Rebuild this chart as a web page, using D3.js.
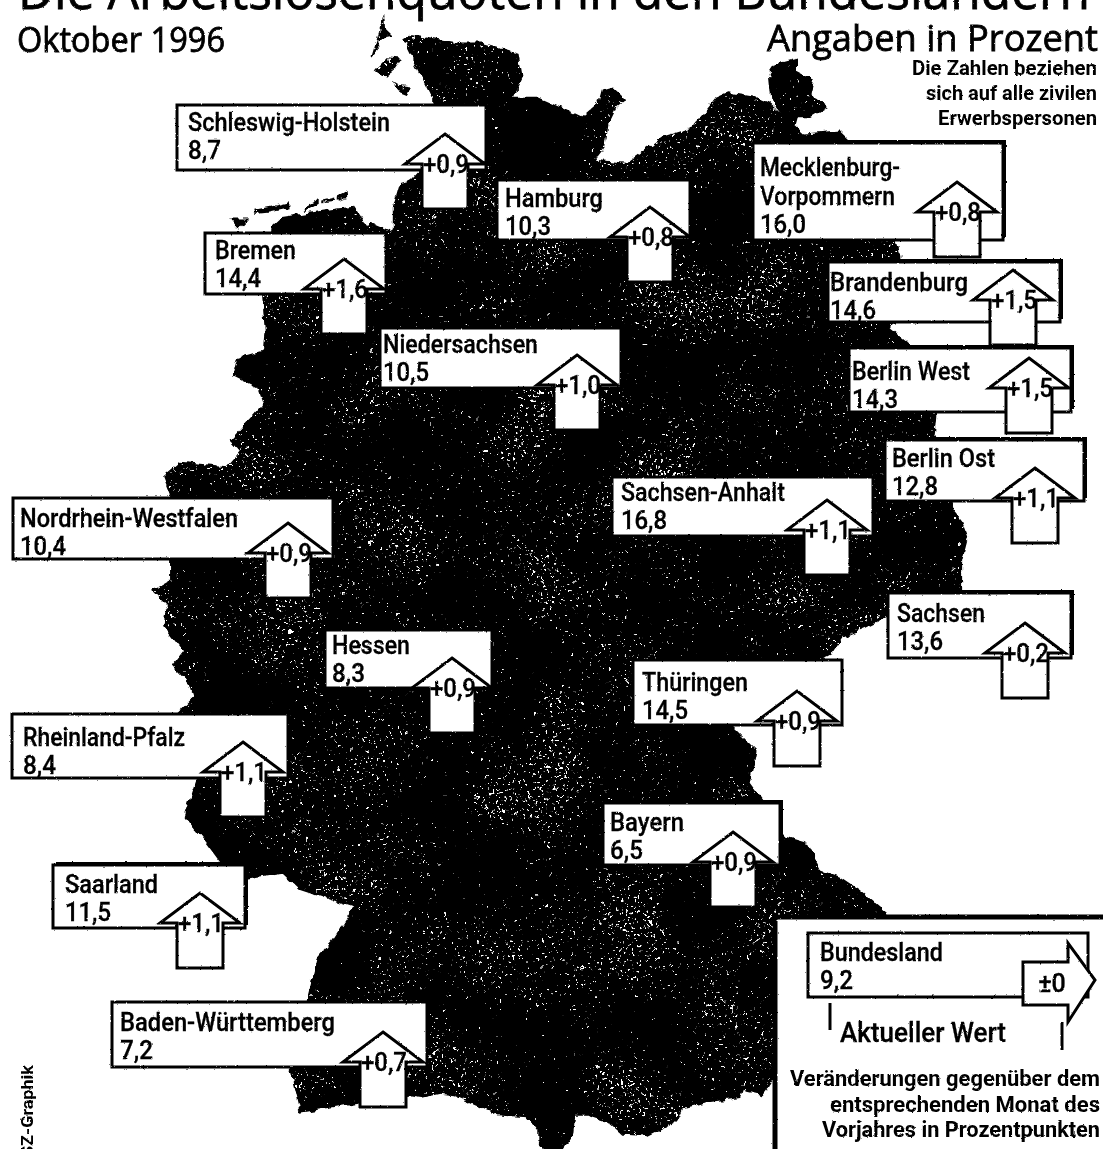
<!DOCTYPE html>
<html>
<head>
<meta charset="utf-8">
<script src="https://cdn.jsdelivr.net/npm/d3@7"></script>
<style>
  html, body { margin: 0; padding: 0; background: #fff; }
  svg { display: block; }
  text { fill: #000; }
  .head { font-family: "Open Sans", sans-serif; font-weight: 500; stroke: #000; stroke-width: 0.8px; }
  .narrow { font-family: Roboto, "Liberation Sans", sans-serif; font-weight: 500; stroke: #000; stroke-width: 0.3px; }
  .heavy { font-family: Roboto, "Liberation Sans", sans-serif; font-weight: 700; }
</style>
</head>
<body>
<div id="chart"></div>
<script>
// --- Data ---
const states = ['Schleswig-Holstein', 'Hamburg', 'Mecklenburg-Vorpommern', 'Bremen', 'Brandenburg', 'Niedersachsen',
  'Berlin West', 'Berlin Ost', 'Sachsen-Anhalt', 'Nordrhein-Westfalen', 'Sachsen', 'Hessen', 'Thüringen',
  'Rheinland-Pfalz', 'Bayern', 'Saarland', 'Baden-Württemberg'];
const rates = [8.7, 10.3, 16.0, 14.4, 14.6, 10.5, 14.3, 12.8, 16.8, 10.4, 13.6, 8.3, 14.5, 8.4, 6.5, 11.5, 7.2];
const changes = [0.9, 0.8, 0.8, 1.6, 1.5, 1.0, 1.5, 1.1, 1.1, 0.9, 0.2, 0.9, 0.9, 1.1, 0.9, 1.1, 0.7];

const legendName = 'Bundesland';
const legendRate = 9.2;
const noteLines = ['Die Zahlen beziehen', 'sich auf alle zivilen', 'Erwerbspersonen'];
const legendLines = ['Veränderungen gegenüber dem', 'entsprechenden Monat des', 'Vorjahres in Prozentpunkten'];

// coast and border, lon/lat
const mainland = [[8.91,54.83],[9.01,54.87],[9.55,54.81],[9.84,54.81],[10.26,54.74],[10.31,54.57],[10.21,54.44],[10.47,54.44],
  [10.74,54.37],[10.99,54.30],[11.19,54.40],[11.23,54.49],[11.35,54.51],[11.51,54.42],[11.40,54.37],[11.31,54.26],[11.27,54.10],[11.15,54.01],
  [11.52,53.99],[11.95,54.17],[12.28,54.23],[12.57,54.44],[12.69,54.47],[13.01,54.44],[13.17,54.40],[13.58,54.19],[13.99,54.21],[14.15,54.12],[14.70,53.74],[14.65,53.45],[14.70,53.35],[14.76,53.12],[14.59,52.86],
  [14.87,52.73],[15.05,52.51],[15.12,52.26],[15.10,52.12],[15.22,51.89],[15.31,51.63],[15.42,51.55],[15.49,51.44],[15.42,51.28],[15.42,51.06],
  [14.81,50.94],[14.55,50.89],[14.31,50.82],[14.03,50.75],[13.92,50.65],[13.77,50.60],[13.42,50.39],[12.76,50.14],[13.03,49.98],[12.95,49.76],
  [13.10,49.64],[13.19,49.51],[13.38,49.39],[13.62,49.35],[13.77,49.17],[14.00,49.12],[14.23,49.03],[14.55,48.87],[14.55,48.76],[13.10,47.63],
  [12.87,47.66],[12.84,47.61],[12.45,47.58],[12.17,47.54],[12.10,47.45],[11.76,47.35],[11.48,47.36],[11.33,47.44],[11.06,47.49],[10.92,47.49],
  [10.90,47.37],[10.74,47.22],[10.63,47.22],[10.48,47.32],[10.48,47.39],[10.36,47.48],[10.05,47.49],[9.50,47.63],[9.35,47.64],[9.12,47.61],
  [9.00,47.62],[8.42,47.58],[7.72,47.51],[7.60,47.80],[7.72,48.01],[7.80,48.28],[7.92,48.57],[8.10,48.69],[8.34,48.91],[7.72,49.03],
  [7.52,49.14],[7.10,49.10],[6.91,49.17],[6.79,49.22],[6.64,49.34],[6.38,49.53],[6.52,49.78],[6.44,50.02],[6.29,50.24],[6.48,50.35],
  [6.44,50.43],[6.23,50.56],[6.36,50.66],[6.13,50.83],[6.17,50.97],[6.00,51.07],[6.21,51.14],[6.21,51.73],[6.13,51.85],[6.33,51.95],
  [6.87,51.92],[7.02,52.02],[6.91,52.09],[7.29,52.34],[7.22,52.46],[6.94,52.54],[6.99,52.66],[7.29,52.71],[7.31,52.85],[7.28,53.09],
  [7.38,53.55],[7.51,53.62],[8.17,53.68],[8.35,53.69],[8.51,53.55],[8.55,53.58],[8.80,53.52],[8.80,53.69],[8.88,53.85],[9.01,53.87],
  [9.12,53.94],[9.29,54.38],[9.22,54.47]];
const islands = [
  [[13.17,54.60],[13.25,54.67],[13.50,54.71],[13.50,54.61],[13.70,54.55],[13.66,54.46],[13.86,54.37],[13.66,54.30],[13.50,54.30],[13.45,54.19],[13.20,54.42]],
  [[8.70,55.01],[8.55,54.71],[8.65,54.76],[8.63,54.83],[8.80,54.85],[8.71,54.90]],
  [[8.59,54.62],[8.74,54.71],[8.91,54.70],[8.84,54.64],[8.70,54.57]],
  [[8.80,54.55],[8.88,54.52],[9.01,54.51],[8.97,54.45],[8.88,54.47]],
  [[7.19,53.67],[7.37,53.69],[7.59,53.72],[7.60,53.68],[7.37,53.65],[7.20,53.64]],
  [[7.76,53.69],[7.95,53.75],[7.95,53.72],[7.77,53.66]],
  [[7.98,53.74],[8.13,53.76],[8.13,53.73],[7.98,53.72]],
  [[8.16,53.76],[8.26,53.79],[8.27,53.75],[8.16,53.73]],
  [[6.91,53.61],[7.12,53.61],[7.01,53.54]]
];

// --- Layout of the labels, same order as states ---
const boxes = [[177,105,486,170],[497,180,690,240],[753,143,1003,240],[205,233,386,294],[828,262,1060,322],[380,328,621,388],
  [849,348,1071,412],[885,440,1084,501],[612,477,873,536],[13,498,333,559],[888,593,1071,658],[325,630,492,688],[633,660,842,725],
  [12,714,288,778],[603,803,780,865],[53,865,245,928],[112,1002,427,1067]];
const arrowTips = [[445,134],[650,207],[957,182],[344,259],[1013,270],[577,355],[1029,358],[1035,468],[827,500],[288,523],
  [1025,623],[452,658],[797,691],[243,742],[733,832],[200,893],[383,1032]];
const textLeft = [188,505,760,215,830,383,852,892,621,20,897,332,642,23,610,65,120];
const valueBase = [159,235,233,287,319,381,408,495,529,555,650,682,719,774,859,921,1059];
const nameWidths = [[202],[98],[140,135],[81],[138],[155],[118],[103],[164],[218],[88],[78],[106],[162],[74],[93],[215]];
const nameLines = [['Schleswig-Holstein'],['Hamburg'],['Mecklenburg-','Vorpommern'],['Bremen'],['Brandenburg'],['Niedersachsen'],
  ['Berlin West'],['Berlin Ost'],['Sachsen-Anhalt'],['Nordrhein-Westfalen'],['Sachsen'],['Hessen'],['Thüringen'],
  ['Rheinland-Pfalz'],['Bayern'],['Saarland'],['Baden-Württemberg']];
const thickBoxes = ['Mecklenburg-Vorpommern', 'Brandenburg', 'Berlin West', 'Berlin Ost', 'Sachsen', 'Saarland', 'Bayern'];

const width = 1103, height = 1149;
const fmtLocale = d3.formatLocale({ decimal: ',', thousands: '.', grouping: [3], currency: ['', ''] });
const fmtRate = fmtLocale.format('.1f');
const fmtChange = fmtLocale.format('+.1f');

const x = d3.scaleLinear().domain([4, 17]).range([-20, 1098]);
const y = d3.scaleLinear().domain([55.1, 47]).range([0, 1187.5]);
const outline = d3.line().x(d => x(d[0])).y(d => y(d[1])).curve(d3.curveLinearClosed);

const svg = d3.select('#chart').append('svg').attr('width', width).attr('height', height);
const defs = svg.append('defs');

// white speckle inside the map, denser in patches
const speckle = defs.append('filter').attr('id', 'speckle')
  .attr('filterUnits', 'userSpaceOnUse').attr('x', 0).attr('y', 0).attr('width', width).attr('height', height)
  .attr('color-interpolation-filters', 'sRGB');
speckle.append('feTurbulence').attr('type', 'fractalNoise').attr('baseFrequency', 0.38).attr('numOctaves', 2).attr('seed', 7).attr('result', 'fineRaw');
speckle.append('feColorMatrix').attr('in', 'fineRaw').attr('values', '1 0 0 0 0 0 1 0 0 0 0 0 1 0 0 0 0 0 0 1').attr('result', 'fine');
speckle.append('feTurbulence').attr('type', 'fractalNoise').attr('baseFrequency', 0.012).attr('numOctaves', 2).attr('seed', 11).attr('result', 'coarseRaw');
speckle.append('feColorMatrix').attr('in', 'coarseRaw').attr('values', '1 0 0 0 0 0 1 0 0 0 0 0 1 0 0 0 0 0 0 1').attr('result', 'coarse');
speckle.append('feComposite').attr('in', 'fine').attr('in2', 'coarse').attr('operator', 'arithmetic')
  .attr('k1', 0).attr('k2', 1).attr('k3', 0.35).attr('k4', 0).attr('result', 'mix');
speckle.append('feColorMatrix').attr('in', 'mix').attr('values', '0 0 0 0 1 0 0 0 0 1 0 0 0 0 1 16 0 0 0 -14.1').attr('result', 'dots');
speckle.append('feComposite').attr('in', 'dots').attr('in2', 'SourceAlpha').attr('operator', 'in');

// rough printed edge
function roughFilter(id, freq, scale) {
  const f = defs.append('filter').attr('id', id)
    .attr('filterUnits', 'userSpaceOnUse').attr('x', 0).attr('y', -20).attr('width', width).attr('height', height + 40);
  f.append('feTurbulence').attr('type', 'fractalNoise').attr('baseFrequency', freq).attr('numOctaves', 2).attr('seed', 4).attr('result', 'n');
  f.append('feDisplacementMap').attr('in', 'SourceGraphic').attr('in2', 'n').attr('scale', scale)
    .attr('xChannelSelector', 'R').attr('yChannelSelector', 'G');
}
roughFilter('roughMap', 0.12, 7);
roughFilter('roughInk', 0.35, 2);

// --- Map ---
const gMap = svg.append('g').attr('filter', 'url(#roughMap)');
const allShapes = [mainland, ...islands];
gMap.selectAll('path.land').data(allShapes).enter().append('path')
  .attr('class', 'land').attr('d', outline).attr('fill', '#000');
gMap.selectAll('path.grain').data(allShapes).enter().append('path')
  .attr('class', 'grain').attr('d', outline).attr('fill', '#fff').attr('filter', 'url(#speckle)');

const ink = svg.append('g').attr('filter', 'url(#roughInk)');

// --- Heading ---
ink.append('text').attr('class', 'head').attr('x', 18).attr('y', 9).attr('font-size', 52)
  .attr('textLength', 1072).attr('lengthAdjust', 'spacingAndGlyphs')
  .text('Die Arbeitslosenquoten in den Bundesländern');
ink.append('text').attr('class', 'head').attr('x', 17).attr('y', 52).attr('font-size', 35)
  .attr('textLength', 208).attr('lengthAdjust', 'spacingAndGlyphs').text('Oktober 1996');
ink.append('text').attr('class', 'head').attr('x', 767).attr('y', 51).attr('font-size', 36)
  .attr('textLength', 331).attr('lengthAdjust', 'spacingAndGlyphs').text('Angaben in Prozent');
ink.selectAll('text.note').data(noteLines).enter().append('text').attr('class', 'note heavy')
  .attr('x', 1097).attr('y', (d, i) => 75 + i * 25).attr('text-anchor', 'end')
  .attr('font-size', 21).attr('textLength', (d, i) => [185, 171, 159][i]).attr('lengthAdjust', 'spacingAndGlyphs').text(d => d);

ink.append('text').attr('class', 'heavy').attr('font-size', 17)
  .attr('transform', 'translate(33,1157) rotate(-90)')
  .attr('textLength', 92).attr('lengthAdjust', 'spacingAndGlyphs').text('SZ-Graphik');

// --- Legend panel ---
ink.append('rect').attr('x', 775).attr('y', 917).attr('width', 340).attr('height', 250)
  .attr('fill', '#fff').attr('stroke', '#000').attr('stroke-width', 5);

// --- Boxes ---
function upArrow(tx, ty) {
  const headH = 30, headW = 40, shaftW = 23, total = 75;
  return [[tx, ty], [tx + headW, ty + headH], [tx + shaftW, ty + headH], [tx + shaftW, ty + total],
    [tx - shaftW, ty + total], [tx - shaftW, ty + headH], [tx - headW, ty + headH]];
}
const shape = d3.line().curve(d3.curveLinearClosed);

states.forEach((s, i) => {
  const [x0, y0, x1, y1] = boxes[i];
  const g = ink.append('g').attr('class', 'state');
  if (thickBoxes.includes(s)) {
    g.append('rect').attr('x', x0 + 3).attr('y', y0 - 3).attr('width', x1 - x0).attr('height', y1 - y0).attr('fill', '#000');
  }
  g.append('rect').attr('x', x0).attr('y', y0).attr('width', x1 - x0).attr('height', y1 - y0)
    .attr('fill', '#fff').attr('stroke', '#000').attr('stroke-width', 3);
  const lines = nameLines[i];
  const lineGap = 28.5;
  lines.forEach((t, j) => {
    g.append('text').attr('class', 'narrow').attr('x', textLeft[i]).attr('y', valueBase[i] - lineGap * (lines.length - j))
      .attr('font-size', 25).attr('textLength', nameWidths[i][j]).attr('lengthAdjust', 'spacingAndGlyphs').text(t);
  });
  const rateText = fmtRate(rates[i]);
  g.append('text').attr('class', 'narrow').attr('x', textLeft[i]).attr('y', valueBase[i])
    .attr('font-size', 25).attr('textLength', rateText.length > 3 ? 46 : 33).attr('lengthAdjust', 'spacingAndGlyphs').text(rateText);
  const [tx, ty] = arrowTips[i];
  g.append('path').attr('d', shape(upArrow(tx, ty))).attr('fill', '#fff').attr('stroke', '#000')
    .attr('stroke-width', 3).attr('stroke-linejoin', 'miter');
  g.append('text').attr('class', 'narrow').attr('x', tx - 22).attr('y', ty + 39)
    .attr('font-size', 25).attr('textLength', 46).attr('lengthAdjust', 'spacingAndGlyphs').text(fmtChange(changes[i]));
});

// --- Legend ---
const gLegend = ink.append('g');
gLegend.append('rect').attr('x', 808).attr('y', 933).attr('width', 280).attr('height', 64)
  .attr('fill', '#fff').attr('stroke', '#000').attr('stroke-width', 3);
gLegend.append('text').attr('class', 'narrow').attr('x', 820).attr('y', 961).attr('font-size', 25)
  .attr('textLength', 123).attr('lengthAdjust', 'spacingAndGlyphs').text(legendName);
gLegend.append('text').attr('class', 'narrow').attr('x', 820).attr('y', 989).attr('font-size', 25)
  .attr('textLength', 33).attr('lengthAdjust', 'spacingAndGlyphs').text(fmtRate(legendRate));
gLegend.append('path')
  .attr('d', shape([[1023, 962], [1068, 962], [1068, 943], [1095, 980], [1068, 1022], [1068, 1005], [1023, 1005]]))
  .attr('fill', '#fff').attr('stroke', '#000').attr('stroke-width', 3);
gLegend.append('text').attr('class', 'narrow').attr('x', 1052).attr('y', 992).attr('text-anchor', 'middle')
  .attr('font-size', 25).text('±0');
gLegend.append('line').attr('x1', 830).attr('x2', 830).attr('y1', 1003).attr('y2', 1030).attr('stroke', '#000').attr('stroke-width', 3);
gLegend.append('line').attr('x1', 1062).attr('x2', 1062).attr('y1', 1022).attr('y2', 1050).attr('stroke', '#000').attr('stroke-width', 3);
gLegend.append('text').attr('class', 'narrow').attr('x', 840).attr('y', 1042).attr('font-size', 27)
  .attr('textLength', 166).attr('lengthAdjust', 'spacingAndGlyphs').text('Aktueller Wert');
gLegend.selectAll('text.legendNote').data(legendLines).enter().append('text').attr('class', 'legendNote heavy')
  .attr('x', 1100).attr('y', (d, i) => 1086 + i * 25.5).attr('text-anchor', 'end')
  .attr('font-size', 22).attr('textLength', (d, i) => [310, 270, 278][i]).attr('lengthAdjust', 'spacingAndGlyphs').text(d => d);
</script>
</body>
</html>
